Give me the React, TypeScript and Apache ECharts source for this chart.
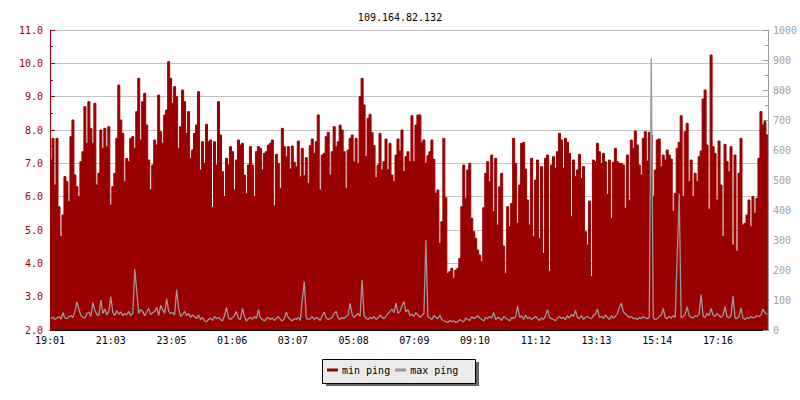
import React, { useEffect, useRef } from "react";
import * as echarts from "echarts";

const chartTitle = "109.164.82.132";
const xTickLabels = ["19:01", "21:03", "23:05", "01:06", "03:07", "05:08", "07:09", "09:10", "11:12", "13:13", "15:14", "17:16"];
const leftTicks = { min: 2, max: 11, interval: 1 };
const rightTicks = { min: 0, max: 1000, interval: 100 };
const seriesNames = ["min ping", "max ping"];

// min ping (left axis), 4-minute samples starting 19:01
const minPingA = [7.1, 7.75, 6.35, 7.75, 5.7, 4.8, 5.45, 6.6, 6.45, 5.85, 7.8, 8.3, 6.65, 6.3, 6.0, 7.05, 7.35, 8.7, 7.6, 8.85, 8.05, 7.6, 8.8, 6.35, 6.7, 8.0, 7.45, 8.05, 7.5, 8.1, 5.75, 6.3, 6.7, 7.75, 9.35, 8.3, 7.9, 6.45, 7.15, 7.05, 7.75, 7.8, 7.45, 8.55, 9.55, 7.7, 8.85, 9.1, 8.15, 7.1, 6.2, 6.95, 7.7, 7.55, 9.05, 7.95, 7.6, 8.45, 8.6, 10.05, 9.55, 8.8, 9.3, 9.0, 7.45, 8.1, 9.2, 8.85, 7.9, 8.55, 7.15, 7.4];
const minPingB = [7.9, 8.15, 9.15, 6.8, 7.65, 7.0, 8.17, 7.65, 7.7, 5.67, 7.65, 6.95, 8.85, 7.85, 6.75, 6.0, 7.15, 6.95, 7.5, 7.35, 6.2, 7.1, 7.7, 7.55, 7.6, 6.65, 6.1, 6.95, 7.5, 6.95, 6.0, 7.35, 7.5, 7.45, 6.8, 7.3, 7.35, 7.55, 7.6, 7.7, 5.72, 7.27, 7.0, 6.25, 8.05, 7.5, 7.2, 7.5, 6.83, 7.52, 7.03, 6.9, 7.67, 6.6, 7.45, 6.63, 7.17, 6.4, 7.53, 7.73, 7.3, 7.65, 8.45, 6.2, 7.25, 7.3, 7.8, 7.93, 6.65, 7.35, 8.1, 7.5];
const minPingC = [7.65, 8.15, 8.0, 7.35, 6.25, 7.4, 7.75, 7.85, 7.05, 7.75, 7.0, 9.0, 9.55, 8.75, 7.2, 8.35, 8.47, 7.92, 7.53, 6.57, 6.95, 7.9, 6.8, 7.05, 7.73, 6.8, 7.6, 6.65, 6.45, 7.25, 7.73, 7.37, 8.0, 6.75, 7.2, 7.35, 7.05, 8.43, 7.05, 8.15, 8.45, 8.45, 7.62, 7.7, 7.0, 7.23, 7.35, 7.7, 7.12, 6.1, 6.2, 4.6, 5.25, 7.75, 5.97, 3.7, 3.75, 3.85, 3.55, 3.8, 3.85, 4.15, 5.7, 6.95, 5.95, 6.8, 7.0, 5.35, 4.95, 4.75, 4.4, 4.25];
const minPingD = [4.05, 5.67, 6.7, 7.05, 6.45, 7.25, 5.55, 7.15, 5.15, 6.3, 6.7, 4.52, 3.7, 5.7, 5.1, 5.8, 7.75, 7.0, 5.2, 6.35, 7.6, 7.63, 6.83, 5.9, 5.15, 7.15, 4.8, 6.5, 7.1, 4.75, 6.9, 4.3, 7.15, 7.25, 3.75, 6.95, 7.2, 6.85, 7.35, 7.9, 7.7, 6.85, 7.75, 7.63, 7.3, 5.4, 7.1, 6.6, 6.8, 7.27, 6.55, 6.9, 4.95, 4.55, 5.87, 3.6, 7.1, 7.05, 7.6, 7.35, 7.0, 7.3, 7.05, 6.07, 7.1, 5.35, 7.03, 7.45, 7.05, 7.0, 7.0, 6.95];
const minPingE = [5.65, 7.25, 5.88, 7.7, 7.45, 7.97, 7.55, 6.95, 6.65, 7.75, 7.95, 7.07, 7.93, 7.85, 6.0, 6.8, 7.7, 7.73, 6.9, 7.25, 7.1, 7.4, 7.25, 7.13, 5.57, 6.1, 7.45, 7.63, 8.43, 6.0, 7.95, 8.2, 6.45, 7.1, 6.0, 6.7, 6.45, 7.2, 7.37, 8.93, 9.2, 7.55, 5.62, 10.25, 7.5, 7.3, 5.9, 7.67, 6.35, 4.8, 7.57, 7.05, 6.75, 7.5, 4.55, 7.25, 4.37, 6.7, 7.75, 5.15, 5.2, 5.45, 5.9, 5.1, 6.0, 5.5, 5.95, 7.15, 8.55, 8.15, 8.25, 7.85];

// max ping (ms, right axis)
const maxPingA = [38, 42, 35, 40, 45, 36, 58, 40, 38, 44, 48, 42, 62, 94, 70, 48, 42, 40, 55, 60, 45, 92, 65, 52, 48, 100, 55, 70, 50, 62, 111, 58, 48, 65, 52, 60, 48, 55, 50, 62, 48, 55, 202, 131, 55, 68, 62, 48, 60, 72, 52, 58, 62, 75, 48, 82, 68, 55, 105, 62, 55, 58, 50, 135, 72, 45, 52, 62, 48, 55, 42, 50];
const maxPingB = [45, 38, 50, 35, 42, 30, 28, 35, 40, 32, 45, 38, 42, 35, 30, 48, 75, 40, 35, 42, 48, 62, 38, 35, 72, 45, 30, 38, 42, 35, 45, 38, 68, 40, 35, 30, 38, 42, 35, 40, 32, 38, 45, 35, 30, 38, 60, 42, 35, 30, 38, 35, 42, 32, 100, 161, 40, 35, 38, 45, 35, 42, 38, 32, 48, 60, 40, 35, 38, 42, 55, 62];
const maxPingC = [40, 35, 42, 38, 45, 50, 89, 52, 42, 48, 55, 45, 167, 48, 40, 35, 42, 38, 45, 35, 40, 50, 42, 38, 45, 55, 62, 70, 58, 90, 55, 62, 80, 95, 60, 68, 48, 52, 45, 58, 50, 42, 48, 55, 300, 45, 40, 35, 48, 42, 38, 50, 35, 30, 28, 25, 32, 28, 30, 25, 28, 35, 30, 28, 40, 35, 32, 45, 38, 42, 48, 40];
const maxPingD = [35, 30, 42, 38, 45, 40, 58, 35, 42, 38, 32, 45, 40, 35, 30, 42, 38, 45, 80, 42, 48, 35, 50, 38, 42, 35, 40, 45, 38, 32, 40, 35, 48, 68, 42, 38, 35, 30, 40, 45, 38, 42, 35, 48, 40, 52, 45, 65, 42, 38, 48, 35, 42, 45, 40, 38, 48, 52, 70, 42, 45, 38, 50, 42, 35, 48, 40, 45, 55, 75, 90, 60];
const maxPingE = [55, 48, 42, 45, 38, 40, 35, 42, 38, 45, 40, 38, 42, 905, 40, 35, 38, 45, 50, 72, 42, 38, 45, 40, 48, 42, 245, 455, 40, 45, 52, 78, 48, 42, 40, 48, 45, 52, 119, 45, 42, 55, 48, 72, 50, 45, 55, 48, 42, 50, 78, 45, 40, 48, 113, 42, 38, 45, 74, 40, 35, 42, 38, 45, 40, 42, 48, 45, 50, 70, 58, 52];

const minPing = [...minPingA, ...minPingB, ...minPingC, ...minPingD, ...minPingE];
const maxPing = [...maxPingA, ...maxPingB, ...maxPingC, ...maxPingD, ...maxPingE];

// samples between labelled ticks
const SAMPLES_PER_LABEL = 30.45;

const RED = "#990000";
const GRAY = "#999999";
const FONT = "DejaVu Sans Mono";

function toSteps(vals: number[]) {
  const pts: number[][] = vals.map((v, i) => [i, v]);
  pts.push([vals.length, vals[vals.length - 1]]);
  return pts;
}

function toCentered(vals: number[]) {
  return vals.map((v, i) => [i + 0.5, v]);
}

export default function App() {
  const ref = useRef<HTMLDivElement>(null);
  useEffect(() => {
    if (!ref.current) return;
    const chart = echarts.init(ref.current, null, { renderer: "svg" });
    const option: any = {
      animation: false,
      backgroundColor: "#ffffff",
      title: {
        text: chartTitle,
        left: "center",
        top: 7,
        textStyle: { fontFamily: FONT, fontSize: 10, fontWeight: "normal", color: "#000" },
      },
      grid: { left: 50, right: 30, top: 30, bottom: 70, containLabel: false },
      xAxis: {
        type: "value",
        min: 0,
        max: minPing.length,
        interval: SAMPLES_PER_LABEL,
        axisLine: { show: true, lineStyle: { color: "#000", width: 1 } },
        axisTick: { show: true, inside: true, length: 5, lineStyle: { color: "#000" } },
        splitLine: { show: false },
        axisLabel: {
          margin: 5,
          color: "#000",
          fontFamily: FONT,
          fontSize: 10,
          showMaxLabel: false,
          formatter: (v: number) => {
            const k = Math.round(v / SAMPLES_PER_LABEL);
            if (Math.abs(v - k * SAMPLES_PER_LABEL) > 0.01) return "";
            return xTickLabels[k] ?? "";
          },
        },
      },
      yAxis: [
        {
          type: "value",
          position: "left",
          min: leftTicks.min,
          max: leftTicks.max,
          interval: leftTicks.interval,
          axisLine: { show: true, lineStyle: { color: RED, width: 1 } },
          axisTick: { show: true, inside: true, length: 5, lineStyle: { color: RED } },
          minorTick: { show: true, splitNumber: 2, length: 3, lineStyle: { color: RED } },
          splitLine: { show: true, lineStyle: { color: "#c4c4c4", width: 1 } },
          axisLabel: {
            margin: 7,
            color: RED,
            fontFamily: FONT,
            fontSize: 10,
            formatter: (v: number) => v.toFixed(1),
          },
        },
        {
          type: "value",
          position: "right",
          min: rightTicks.min,
          max: rightTicks.max,
          interval: rightTicks.interval,
          axisLine: { show: true, lineStyle: { color: GRAY, width: 1 } },
          axisTick: { show: true, inside: true, length: 5, lineStyle: { color: GRAY } },
          minorTick: { show: true, splitNumber: 2, length: 3, lineStyle: { color: GRAY } },
          splitLine: { show: false },
          axisLabel: {
            margin: 5,
            color: "#a0a0a0",
            fontFamily: FONT,
            fontSize: 10,
            formatter: (v: number) => String(v),
          },
        },
      ],
      legend: {
        data: seriesNames,
        left: 327,
        top: 365,
        padding: 0,
        itemGap: 5,
        itemWidth: 11,
        itemHeight: 3,
        icon: "rect",
        z: 10,
        textStyle: { fontFamily: FONT, fontSize: 10, color: "#000", padding: [0, 0, 0, -1] },
      },
      graphic: [
        { type: "rect", z: 1, shape: { x: 326, y: 362, width: 153, height: 24 }, style: { fill: "#666666" } },
        {
          type: "rect",
          z: 2,
          shape: { x: 322.5, y: 359.5, width: 153, height: 24 },
          style: { fill: "#ebebeb", stroke: "#000", lineWidth: 1 },
        },
      ],
      series: [
        {
          name: seriesNames[0],
          type: "line",
          yAxisIndex: 0,
          step: "end",
          data: toSteps(minPing),
          showSymbol: false,
          symbol: "none",
          color: RED,
          lineStyle: { color: RED, width: 1 },
          areaStyle: { color: RED, opacity: 1, origin: "start" },
          z: 2,
        },
        {
          name: seriesNames[1],
          type: "line",
          yAxisIndex: 1,
          data: toCentered(maxPing),
          showSymbol: false,
          symbol: "none",
          color: GRAY,
          lineStyle: { color: GRAY, width: 1.3 },
          z: 3,
        },
      ],
    };
    chart.setOption(option);
    return () => chart.dispose();
  }, []);
  return (
    <div
      ref={ref}
      style={{ position: "fixed", left: 0, top: 0, width: 800, height: 400, background: "#fff" }}
    />
  );
}
